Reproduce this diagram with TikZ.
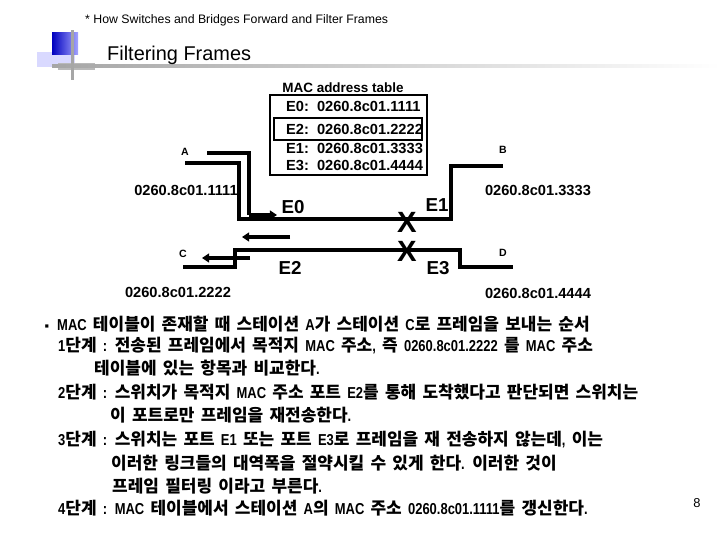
\documentclass[tikz,border=0pt]{standalone}
\usepackage{fontspec}
\setmainfont{Liberation Sans}
\newfontfamily\kofont{Noto Sans CJK KR}[WordSpace=1.6]
\newfontfamily\latfont{Liberation Sans}[FakeStretch=0.82]
\newcommand\lat[1]{{\latfont\bfseries\fontsize{13.5}{13.5}\selectfont #1}}
\usetikzlibrary{arrows.meta}

\begin{document}
\begin{tikzpicture}[x=0.03cm,y=-0.03cm,line join=miter,
  wire/.style={line width=3.4pt},
  flow/.style={line width=3.4pt,-{Triangle[length=6pt,width=7.5pt]}},
  addr/.style={font=\bfseries\fontsize{12.5}{12.5}\selectfont},
  port/.style={font=\bfseries\fontsize{16}{16}\selectfont},
  host/.style={font=\bfseries\fontsize{9}{9}\selectfont},
  xmark/.style={font=\bfseries\fontsize{25}{25}\selectfont,inner sep=0pt},
  kline/.style={anchor=base west,inner sep=0pt,font=\kofont\bfseries\fontsize{14.5}{14.5}\selectfont}]
  \useasboundingbox (0,0) rectangle (720,540);
  % header decoration
  \fill[blue!15!white] (37,52) rectangle (75,67);
  \shade[left color=blue!75!black,right color=blue!35!white] (52,33) rectangle (78,55);
  \fill[gray!55] (58,63) rectangle (95,70);
  \shade[left color=gray!70,right color=white] (52,65) rectangle (720,68);
  \fill[gray!70] (71,30) rectangle (74,80);
  \node[anchor=west,inner sep=0pt,font=\fontsize{10.5}{10.5}\selectfont] (hdr) at (85,20) {* How Switches and Bridges Forward and Filter Frames};
  \node[anchor=west,inner sep=0pt,font=\fontsize{17}{17}\selectfont] (ttl) at (107,55) {Filtering Frames};
  % MAC address table
  \node[font=\bfseries\fontsize{11.5}{11.5}\selectfont] (tbl) at (343,88) {MAC address table};
  \draw[line width=2.4pt] (270,95) rectangle (427,175);
  \draw[line width=2.4pt] (274,118) rectangle (422,140);
  \node[addr,anchor=west] (e0) at (282,106) {E0:\ \ 0260.8c01.1111};
  \node[addr,anchor=west] (e2) at (282,129) {E2:\ \ 0260.8c01.2222};
  \node[addr,anchor=west] (e1) at (282,148) {E1:\ \ 0260.8c01.3333};
  \node[addr,anchor=west] (e3) at (282,165) {E3:\ \ 0260.8c01.4444};
  % stations
  \node[host] (A) at (185,152) {A};
  \node[host] (B) at (503,150) {B};
  \node[host] (C) at (183,254) {C};
  \node[host] (D) at (503,253) {D};
  \node[addr] (mA) at (186,190) {0260.8c01.1111};
  \node[addr] (mC) at (178,292) {0260.8c01.2222};
  \node[addr] (mB) at (538,190) {0260.8c01.3333};
  \node[addr] (mD) at (538,293) {0260.8c01.4444};
  % wires
  \coordinate (a1) at (207,153);
  \coordinate (a2) at (249,153);
  \coordinate (a3) at (249,215);
  \coordinate (a4) at (277,215);
  \coordinate (b1) at (185,163);
  \coordinate (b2) at (239,163);
  \coordinate (b3) at (239,219);
  \coordinate (b4) at (451,219);
  \coordinate (b5) at (451,166);
  \coordinate (b6) at (503,166);
  \coordinate (c1) at (183,267);
  \coordinate (c2) at (235,267);
  \coordinate (c3) at (235,250);
  \coordinate (c4) at (460,250);
  \coordinate (c5) at (460,267);
  \coordinate (c6) at (513,267);
  \coordinate (f1) at (290,237);
  \coordinate (f2) at (242,237);
  \coordinate (g1) at (250,258);
  \coordinate (g2) at (202,258);
  \draw[wire] (a1) -- (a2) -- (a3);
  \draw[flow] (a3) -- (a4);
  \draw[wire] (b1) -- (b2) -- (b3) -- (b4) -- (b5) -- (b6);
  \draw[wire] (c1) -- (c2) -- (c3) -- (c4) -- (c5) -- (c6);
  \draw[flow] (f1) -- (f2);
  \draw[flow] (g1) -- (g2);
  \node[port] (p0) at (293,207) {E0};
  \node[port] (p2) at (290,268) {E2};
  \node[port] (p1) at (437,205) {E1};
  \node[port] (p3) at (438,268) {E3};
  \node[xmark] (x1) at (407,222) {X};
  \node[xmark] (x3) at (407,251) {X};
  % steps
  \node[anchor=base,inner sep=0pt,font=\fontsize{11}{11}\selectfont] (blt) at (47,331) {▪};
  \node[kline] (k1) at (57,331) {\lat{MAC} 테이블이 존재할 때 스테이션 \lat{A}가 스테이션 \lat{C}로 프레임을 보내는 순서};
  \node[kline] (k2) at (58,352) {\lat{1}단계 \lat{:} 전송된 프레임에서 목적지 \lat{MAC} 주소\lat{,} 즉 \lat{0260.8c01.2222} 를 \lat{MAC} 주소};
  \node[kline] (k3) at (94,375) {테이블에 있는 항목과 비교한다\lat{.}};
  \node[kline] (k4) at (58,398) {\lat{2}단계 \lat{:} 스위치가 목적지 \lat{MAC} 주소 포트 \lat{E2}를 통해 도착했다고 판단되면 스위치는};
  \node[kline] (k5) at (110,422) {이 포트로만 프레임을 재전송한다\lat{.}};
  \node[kline] (k6) at (58,446) {\lat{3}단계 \lat{:} 스위치는 포트 \lat{E1} 또는 포트 \lat{E3}로 프레임을 재 전송하지 않는데\lat{,} 이는};
  \node[kline] (k7) at (111,469) {이러한 링크들의 대역폭을 절약시킬 수 있게 한다\lat{.} 이러한 것이};
  \node[kline] (k8) at (112,492) {프레임 필터링 이라고 부른다\lat{.}};
  \node[kline] (k9) at (58,514) {\lat{4}단계 \lat{:} \lat{MAC} 테이블에서 스테이션 \lat{A}의 \lat{MAC} 주소 \lat{0260.8c01.1111}를 갱신한다\lat{.}};
  \node[font=\fontsize{11}{11}\selectfont] (pg) at (697,503) {8};
\end{tikzpicture}
\end{document}
